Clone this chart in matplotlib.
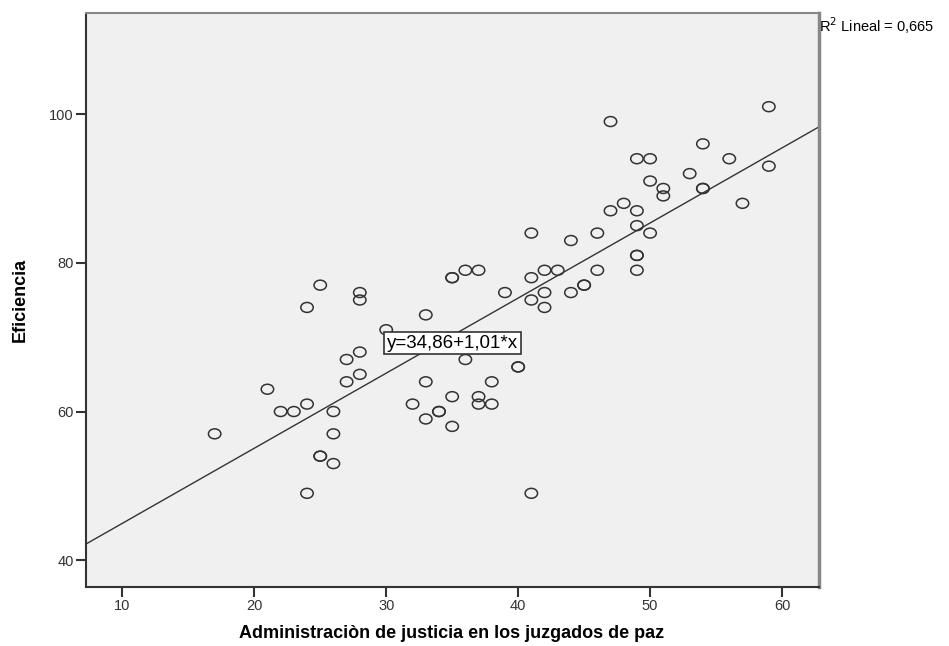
import numpy as np
import matplotlib
matplotlib.use("Agg")
import matplotlib.pyplot as plt
from matplotlib.path import Path
from matplotlib.transforms import Affine2D

# datos (Administracion de justicia vs Eficiencia)
justicia = [17, 21, 22, 23, 24, 24, 24, 25, 25, 25, 26, 26, 26, 27, 27,
            28, 28, 28, 28, 30, 32, 33, 33, 33, 34, 34, 35, 35, 35, 35,
            36, 36, 37, 37, 37, 38, 38, 39, 40, 40, 41, 41, 41, 41,
            42, 42, 42, 43, 44, 44, 45, 45, 46, 46, 47, 47, 48,
            49, 49, 49, 49, 49, 49, 50, 50, 50, 51, 51, 53, 54, 54, 54,
            56, 57, 59, 59]
eficiencia = [57, 63, 60, 60, 61, 74, 49, 77, 54, 54, 60, 57, 53, 67, 64,
              76, 75, 68, 65, 71, 61, 73, 64, 59, 60, 60, 78, 78, 62, 58,
              79, 67, 79, 62, 61, 64, 61, 76, 66, 66, 84, 78, 75, 49,
              79, 76, 74, 79, 83, 76, 77, 77, 84, 79, 99, 87, 88,
              94, 87, 85, 81, 81, 79, 94, 91, 84, 90, 89, 92, 96, 90, 90,
              94, 88, 101, 93]

intercepto = 34.86
pendiente = 1.01
r2 = "0,665"

xlim = (7.25, 62.8)
ylim = (36.4, 113.6)

fig = plt.figure(figsize=(9.49, 6.46), dpi=100)
ax = fig.add_axes([86 / 949, 1 - 587 / 646, (819 - 86) / 949, (587 - 13) / 646])
ax.set_facecolor("#f0f0f0")

# marcador eliptico como en SPSS
elipse = Path.unit_circle().transformed(Affine2D().scale(1.0, 0.8))
ax.scatter(justicia, eficiencia, s=80, marker=elipse, facecolors="none",
           edgecolors="#333333", linewidths=1.1, zorder=3)

xl = np.array(xlim)
ax.plot(xl, intercepto + pendiente * xl, color="#333333", lw=1.0, zorder=2)

ax.set_xlim(*xlim)
ax.set_ylim(*ylim)
ax.set_xticks([10, 20, 30, 40, 50, 60])
ax.set_yticks([40, 60, 80, 100])

ax.tick_params(direction="out", length=7, width=1.5, color="#333333",
               labelsize=10.5, labelcolor="#333333", pad=2)
for lado in ["left", "bottom"]:
    ax.spines[lado].set_color("#333333")
    ax.spines[lado].set_linewidth(1.5)
ax.spines["top"].set_color("#888888")
ax.spines["top"].set_linewidth(1.5)
ax.spines["right"].set_color("#888888")
ax.spines["right"].set_linewidth(2.5)

fig.text(452 / 949, 1 - 633 / 646, "Administraciòn de justicia en los juzgados de paz",
         fontsize=13, fontweight="bold", ha="center", va="center",
         family="Liberation Sans")
fig.text(20 / 949, 1 - 300 / 646, "Eficiencia", fontsize=13, fontweight="bold",
         rotation=90, ha="center", va="center", family="Liberation Sans")

ax.text(30.05, 69.2, "y=34,86+1,01*x", fontsize=13.5, ha="left", va="center",
        family="Liberation Sans", zorder=5,
        bbox=dict(boxstyle="square,pad=0.15", fc="white", ec="#333333", lw=1.2))

fig.text(819 / 949, 1 - 26 / 646, "R$^2$ Lineal = " + r2, fontsize=10.5,
         ha="left", va="center", family="Liberation Sans")

for lbl in ax.get_xticklabels() + ax.get_yticklabels():
    lbl.set_family("Liberation Sans")

fig.savefig("out.png", dpi=100)
